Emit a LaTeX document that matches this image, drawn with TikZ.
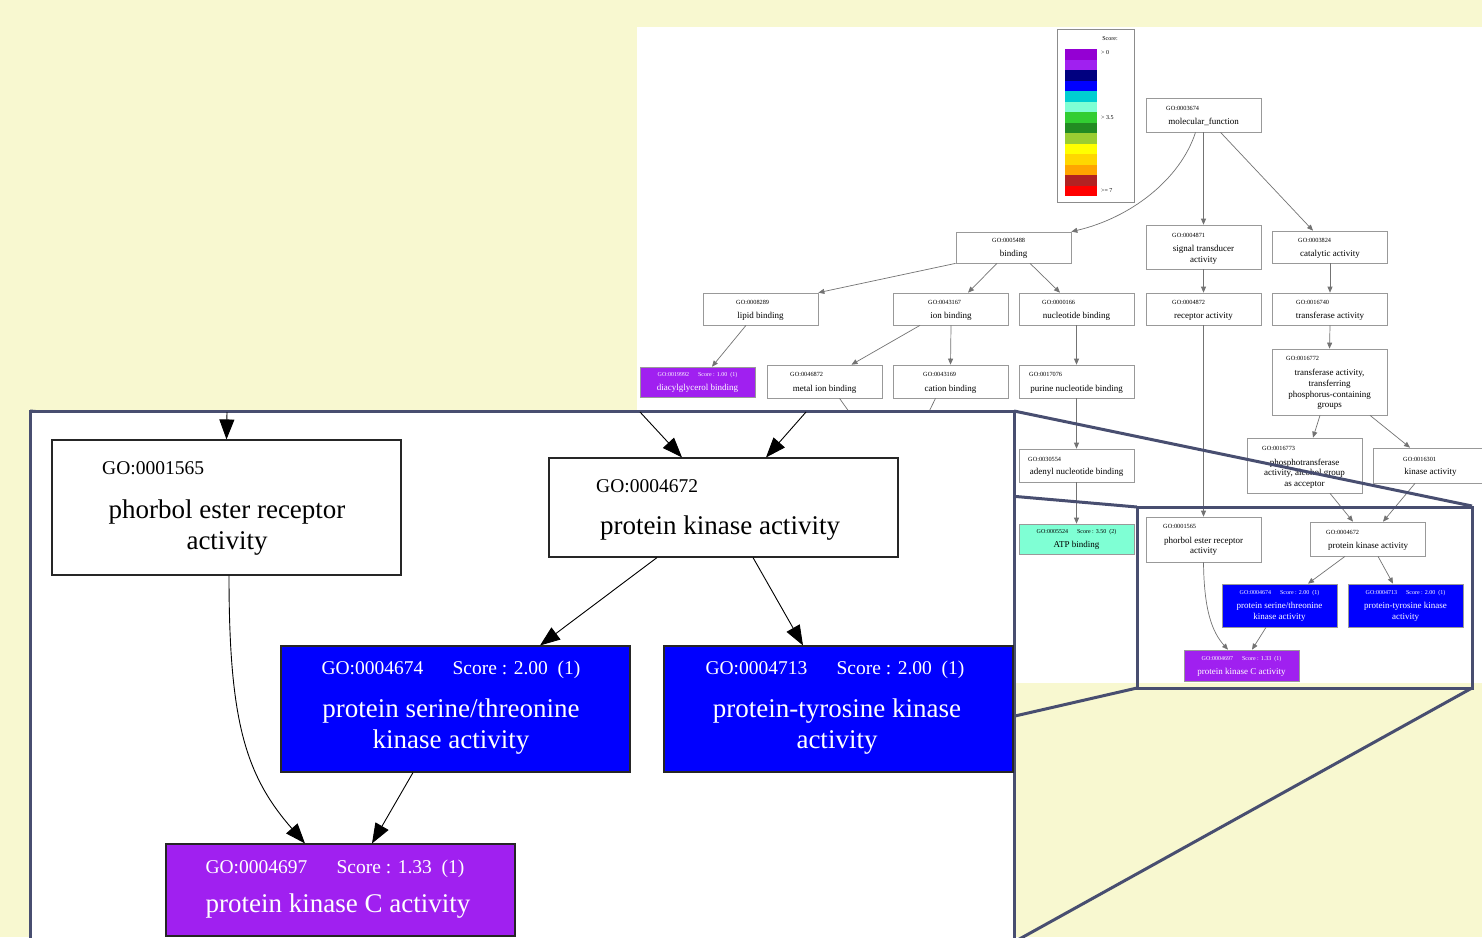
\documentclass[tikz,border=0pt]{standalone}
\usepackage{fontspec}
\setmainfont{Liberation Serif}
\usetikzlibrary{arrows.meta}
\definecolor{bgyellow}{RGB}{248,248,208}
\definecolor{framecol}{RGB}{72,78,112}
\definecolor{goblue}{RGB}{0,0,255}
\definecolor{gopurple}{RGB}{160,32,240}
\definecolor{goaqua}{RGB}{127,255,212}
\definecolor{sca}{RGB}{148,0,211}
\definecolor{scb}{RGB}{160,32,240}
\definecolor{scc}{RGB}{0,0,128}
\definecolor{scd}{RGB}{0,0,255}
\definecolor{sce}{RGB}{0,206,209}
\definecolor{scf}{RGB}{127,255,212}
\definecolor{scg}{RGB}{50,205,50}
\definecolor{sch}{RGB}{34,139,34}
\definecolor{sci}{RGB}{154,205,50}
\definecolor{scj}{RGB}{255,255,0}
\definecolor{sck}{RGB}{255,215,0}
\definecolor{scl}{RGB}{255,165,0}
\definecolor{scm}{RGB}{178,34,34}
\definecolor{scn}{RGB}{255,0,0}

\begin{document}
\begin{tikzpicture}[x=1pt,y=-1pt]
\tikzstyle{every node}+=[inner sep=0pt]
\tikzstyle{bigbox}=[draw=black!85,line width=1.1pt,fill=white]
\tikzstyle{minibox}=[draw=black!40,line width=0.7pt,fill=white,minimum width=115pt]
\tikzstyle{bigid}=[anchor=west,font=\fontsize{19.5}{22}\selectfont]
\tikzstyle{bigtxt}=[align=center,font=\fontsize{27}{31}\selectfont]
\tikzstyle{miniid}=[anchor=west,font=\fontsize{6.3}{7}\selectfont]
\tikzstyle{minitxt}=[align=center,font=\fontsize{9}{10.6}\selectfont]
\tikzstyle{miniscore}=[font=\fontsize{6}{7}\selectfont]
\tikzstyle{bigedge}=[draw=black,line width=0.9pt,-{Triangle[length=20pt,width=15pt]}]
\tikzstyle{miniedge}=[draw=black!55,line width=0.7pt,-{Triangle[length=6pt,width=5pt]}]
\tikzstyle{frame}=[draw=framecol,line width=3pt]
\useasboundingbox (0,0) rectangle (1482,937);
\clip (0,0) rectangle (1482,937);
\fill[bgyellow] (0,0) rectangle (1482,937);
% overview graph
\fill[white] (637,27) rectangle (1482,683);
\draw[black!45,line width=0.8pt] (1057,29) rectangle (1134,202);
\foreach \c [count=\i from 0] in {sca,scb,scc,scd,sce,scf,scg,sch,sci,scj,sck,scl,scm,scn}
  \fill[\c] (1065,{49+10.5*\i}) rectangle (1097,{59.6+10.5*\i});
\node[miniscore] (lgtitle) at (1110,39) {Score:};
\node[miniscore,anchor=west] (lgtop) at (1101,53) {> 0};
\node[miniscore,anchor=west] (lgmid) at (1101,118) {> 3.5};
\node[miniscore,anchor=west] (lgbot) at (1101,191) {>= 7};

\node[minibox,minimum height=34pt] (mf) at (1203.5,115) {};
\node[miniid] (mfid) at (1166,108) {GO:0003674};
\node[minitxt] (mftxt) at (1203.5,122) {molecular\_function};
\node[minibox,minimum height=31pt] (bind) at (1013.5,247.5) {};
\node[miniid] (bindid) at (992,240) {GO:0005488};
\node[minitxt] (bindtxt) at (1013.5,254) {binding};
\node[minibox,minimum height=44pt] (sig) at (1203.5,247) {};
\node[miniid] (sigid) at (1172,235) {GO:0004871};
\node[minitxt] (sigtxt) at (1203.5,255) {signal transducer\\activity};
\node[minibox,minimum height=32pt] (cat) at (1330,247) {};
\node[miniid] (catid) at (1298,240) {GO:0003824};
\node[minitxt] (cattxt) at (1330,254) {catalytic activity};
\node[minibox,minimum height=32pt] (lipid) at (760.5,309) {};
\node[miniid] (lipidid) at (736,302) {GO:0008289};
\node[minitxt] (lipidtxt) at (760.5,316) {lipid binding};
\node[minibox,minimum height=32pt] (ion) at (951,309) {};
\node[miniid] (ionid) at (928,302) {GO:0043167};
\node[minitxt] (iontxt) at (951,316) {ion binding};
\node[minibox,minimum height=32pt] (nuc) at (1076.5,309) {};
\node[miniid] (nucid) at (1042,302) {GO:0000166};
\node[minitxt] (nuctxt) at (1076.5,316) {nucleotide binding};
\node[minibox,minimum height=32pt] (rec) at (1203.5,309) {};
\node[miniid] (recid) at (1172,302) {GO:0004872};
\node[minitxt] (rectxt) at (1203.5,316) {receptor activity};
\node[minibox,minimum height=32pt] (tra) at (1330,309) {};
\node[miniid] (traid) at (1296,302) {GO:0016740};
\node[minitxt] (tratxt) at (1330,316) {transferase activity};
\node[minibox,minimum height=30pt,fill=gopurple] (dag) at (697.5,382) {};
\node[miniscore,white] (dagid) at (697.5,375) {GO:0019992\hspace{1.5em}Score~: 1.00~~(1)};
\node[minitxt,white] (dagtxt) at (697.5,388) {diacylglycerol binding};
\node[minibox,minimum height=33pt] (metal) at (824.5,381.5) {};
\node[miniid] (metalid) at (790,374) {GO:0046872};
\node[minitxt] (metaltxt) at (824.5,389) {metal ion binding};
\node[minibox,minimum height=33pt] (cation) at (950.5,381.5) {};
\node[miniid] (cationid) at (923,374) {GO:0043169};
\node[minitxt] (cationtxt) at (950.5,389) {cation binding};
\node[minibox,minimum height=33pt] (pur) at (1076.5,381.5) {};
\node[miniid] (purid) at (1029,374) {GO:0017076};
\node[minitxt] (purtxt) at (1076.5,389) {purine nucleotide binding};
\node[minibox,minimum height=66pt] (trp) at (1329.5,382) {};
\node[miniid] (trpid) at (1286,358) {GO:0016772};
\node[minitxt] (trptxt) at (1329.5,389.5) {transferase activity,\\transferring\\phosphorus-containing\\groups};
\node[minibox,minimum height=55pt] (pht) at (1304.5,465.5) {};
\node[miniid] (phtid) at (1262,448) {GO:0016773};
\node[minitxt] (phttxt) at (1304.5,473.5) {phosphotransferase\\activity, alcohol group\\as acceptor};
\node[minibox,minimum height=35pt] (kin) at (1430.5,465.5) {};
\node[miniid] (kinid) at (1403,459) {GO:0016301};
\node[minitxt] (kintxt) at (1430.5,472) {kinase activity};
\node[minibox,minimum height=33pt] (ade) at (1076.5,465.5) {};
\node[miniid] (adeid) at (1028,459) {GO:0030554};
\node[minitxt] (adetxt) at (1076.5,472) {adenyl nucleotide binding};
\node[minibox,minimum height=30pt,fill=goaqua] (atp) at (1076.5,539) {};
\node[miniscore] (atpid) at (1076.5,532) {GO:0005524\hspace{1.5em}Score~: 3.50~~(2)};
\node[minitxt] (atptxt) at (1076.5,545) {ATP binding};
\node[minibox,minimum height=45pt] (phS) at (1203.5,539.5) {};
\node[miniid] (phSid) at (1163,526) {GO:0001565};
\node[minitxt] (phStxt) at (1203.5,546.5) {phorbol ester receptor\\activity};
\node[minibox,minimum height=34pt] (pkS) at (1368,539) {};
\node[miniid] (pkSid) at (1326,532) {GO:0004672};
\node[minitxt] (pkStxt) at (1368,546) {protein kinase activity};
\node[minibox,minimum height=43pt,fill=goblue] (stS) at (1279.5,605.5) {};
\node[miniscore,white] (stSid) at (1279.5,593) {GO:0004674\hspace{1.5em}Score~: 2.00~~(1)};
\node[minitxt,white] (stStxt) at (1279.5,612) {protein serine/threonine\\kinase activity};
\node[minibox,minimum height=43pt,fill=goblue] (tyS) at (1405.5,605.5) {};
\node[miniscore,white] (tySid) at (1405.5,593) {GO:0004713\hspace{1.5em}Score~: 2.00~~(1)};
\node[minitxt,white] (tyStxt) at (1405.5,612) {protein-tyrosine kinase\\activity};
\node[minibox,minimum height=31pt,fill=gopurple] (pkcS) at (1241.5,665.5) {};
\node[miniscore,white] (pkcSid) at (1241.5,659) {GO:0004697\hspace{1.5em}Score~: 1.33~~(1)};
\node[minitxt,white] (pkcStxt) at (1241.5,672) {protein kinase C activity};

\coordinate (hidA) at (862,430);
\coordinate (hidB) at (920,430);
\draw[miniedge] ([xshift=-8pt]mf.south) .. controls (1180,180) and (1130,218) .. (bind.north east);
\draw[miniedge] (mf.south) -- (sig.north);
\draw[miniedge] ([xshift=17pt]mf.south) -- ([xshift=-17pt]cat.north);
\draw[miniedge] (bind.south west) -- (lipid.north east);
\draw[miniedge] ([xshift=-16.5pt]bind.south) -- ([xshift=17pt]ion.north);
\draw[miniedge] ([xshift=16.5pt]bind.south) -- ([xshift=-16.5pt]nuc.north);
\draw[miniedge] (sig.south) -- (rec.north);
\draw[miniedge] (cat.south) -- (tra.north);
\draw[miniedge] ([xshift=-14.5pt]lipid.south) -- ([xshift=14.5pt]dag.north);
\draw[miniedge] ([xshift=-31pt]ion.south) -- ([xshift=27pt]metal.north);
\draw[miniedge] (ion.south) -- (cation.north);
\draw[miniedge] (nuc.south) -- (pur.north);
\draw[miniedge] (tra.south) -- (trp.north);
\draw[miniedge] ([xshift=-9.5pt]trp.south) -- ([xshift=8.5pt]pht.north);
\draw[miniedge] ([xshift=40.5pt]trp.south) -- ([xshift=-20.5pt]kin.north);
\draw[miniedge] (pur.south) -- (ade.north);
\draw[miniedge] (ade.south) -- (atp.north);
\draw[miniedge] (rec.south) -- (phS.north);
\draw[miniedge,-] ([xshift=15pt]metal.south) -- (hidA);
\draw[miniedge,-] ([xshift=-15pt]cation.south) -- (hidB);
\draw[miniedge] ([xshift=25.5pt]pht.south) -- ([xshift=-15pt]pkS.north);
\draw[miniedge] ([xshift=-15.5pt]kin.south) -- ([xshift=15pt]pkS.north);
\draw[miniedge] ([xshift=-23pt]pkS.south) -- ([xshift=28.5pt]stS.north);
\draw[miniedge] ([xshift=10pt]pkS.south) -- ([xshift=-12.5pt]tyS.north);
\draw[miniedge] (phS.south) .. controls (1204,610) and (1212,632) .. ([xshift=-13.5pt]pkcS.north);
\draw[miniedge] ([xshift=-13.5pt]stS.south) -- ([xshift=10.5pt]pkcS.north);

% magnifier
\coordinate (smNW) at (1137,507);
\coordinate (smNE) at (1472,506);
\coordinate (smSW) at (1137,688);
\coordinate (smSE) at (1472,688);
\coordinate (bgNW) at (30,411);
\coordinate (bgNE) at (1014,411);
\coordinate (bgSW) at (30,942);
\coordinate (bgSE) at (1014,942);
\draw[frame] (smNW) rectangle (smSE);
\draw[frame] (bgNW) -- (smNW);
\draw[frame] (bgNE) -- (smNE);
\draw[frame] (bgSW) -- (smSW);
\draw[frame] (bgSE) -- (smSE);
\draw[frame,fill=white] (bgNW) rectangle (bgSE);

% zoomed part
\node[bigbox,minimum width=349pt,minimum height=135pt] (pherB) at (226.5,507.5) {};
\node[bigid] (pherBid) at (102,468) {GO:0001565};
\node[bigtxt] (pherBtxt) at (227,528) {phorbol ester receptor\\activity};
\node[bigbox,minimum width=349pt,minimum height=99pt] (pkB) at (723.5,507.5) {};
\node[bigid] (pkBid) at (596,486) {GO:0004672};
\node[bigtxt] (pkBtxt) at (720,528) {protein kinase activity};
\node[bigbox,minimum width=349pt,minimum height=126pt,fill=goblue] (stB) at (455.5,709) {};
\node[bigid,anchor=center,white] (stBid) at (451,670) {GO:0004674\hspace{1.5em}Score~: 2.00~~(1)};
\node[bigtxt,white] (stBtxt) at (451,726.5) {protein serine/threonine\\kinase activity};
\node[bigbox,minimum width=349pt,minimum height=126pt,fill=goblue] (tyB) at (838.5,709) {};
\node[bigid,anchor=center,white] (tyBid) at (835,670) {GO:0004713\hspace{1.5em}Score~: 2.00~~(1)};
\node[bigtxt,white] (tyBtxt) at (837,726.5) {protein-tyrosine kinase\\activity};
\node[bigbox,minimum width=349pt,minimum height=92pt,fill=gopurple] (pkcB) at (340.5,890) {};
\node[bigid,anchor=center,white] (pkcBid) at (335,869) {GO:0004697\hspace{1.5em}Score~: 1.33~~(1)};
\node[bigtxt,white] (pkcBtxt) at (338,906) {protein kinase C activity};

\coordinate (inA) at (227,412);
\coordinate (inB) at (640,412);
\coordinate (inC) at (806,412);
\draw[bigedge] (inA) -- (pherB.north);
\draw[bigedge] (inB) -- ([xshift=-41.5pt]pkB.north);
\draw[bigedge] (inC) -- ([xshift=42.5pt]pkB.north);
\draw[bigedge] ([xshift=-66.5pt]pkB.south) -- ([xshift=84.5pt]stB.north);
\draw[bigedge] ([xshift=29.5pt]pkB.south) -- ([xshift=-35.5pt]tyB.north);
\draw[bigedge] ([xshift=2.5pt]pherB.south) .. controls (229,720) and (245,775) .. ([xshift=-35.5pt]pkcB.north);
\draw[bigedge] ([xshift=-42.5pt]stB.south) -- ([xshift=31.5pt]pkcB.north);
\end{tikzpicture}
\end{document}
